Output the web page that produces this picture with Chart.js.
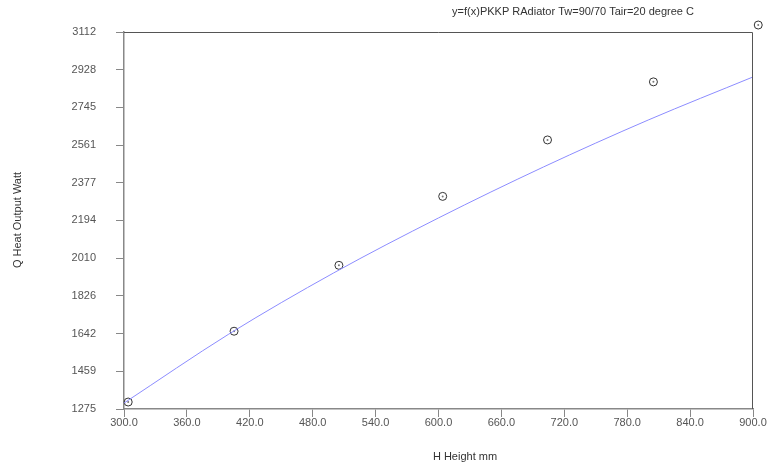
<!DOCTYPE html>
<html>
<head>
<meta charset="utf-8">
<script src="https://cdn.jsdelivr.net/npm/chart.js@4"></script>
<style>
  html, body { margin: 0; padding: 0; background: #fff; }
  #wrap { width: 770px; height: 468px; }
</style>
</head>
<body>
<div id="wrap"><canvas id="heatChart" width="770" height="468"></canvas></div>
<script>
// measured radiator points (height mm -> heat output W)
var heightMm = [304, 405, 505, 604, 704, 805, 905];
var heatWatt = [1309, 1654, 1975, 2311, 2586, 2869, 3146];

// fitted curve
var curveX = [300, 400, 500, 600, 700, 800, 900];
var curveY = [1304, 1640, 1938, 2206, 2454, 2683, 2893];

// tick labels
var xTicks = [300, 360, 420, 480, 540, 600, 660, 720, 780, 840, 900];
var yTicks = [1275, 1459, 1642, 1826, 2010, 2194, 2377, 2561, 2745, 2928, 3112];

var chartTitle = "y=f(x)PKKP RAdiator Tw=90/70 Tair=20 degree C";
var xTitle = "H Height mm";
var yTitle = "Q Heat Output Watt";

var pts = heightMm.map(function (x, i) { return { x: x, y: heatWatt[i] }; });
var curvePts = curveX.map(function (x, i) { return { x: x, y: curveY[i] }; });

// chart.js skips points outside the chart area, so draw those ourselves
// at the position the library worked out for them
var outsidePoints = {
  id: "outsidePoints",
  afterDatasetsDraw: function (chart) {
    var ctx = chart.ctx;
    var a = chart.chartArea;
    ctx.save();
    [1, 2].forEach(function (di) {
      var meta = chart.getDatasetMeta(di);
      meta.data.forEach(function (el) {
        if (el.x >= a.left && el.x <= a.right && el.y >= a.top && el.y <= a.bottom) return;
        var o = el.options;
        ctx.beginPath();
        ctx.arc(el.x, el.y, o.radius, 0, Math.PI * 2);
        ctx.fillStyle = o.backgroundColor;
        ctx.fill();
        if (o.borderWidth > 0) {
          ctx.lineWidth = o.borderWidth;
          ctx.strokeStyle = o.borderColor;
          ctx.stroke();
        }
      });
    });
    ctx.restore();
  }
};

// frame + text that sits outside the normal chart.js spots
var framePlugin = {
  id: "frame",
  afterDraw: function (chart) {
    var ctx = chart.ctx;
    var a = chart.chartArea;
    ctx.save();
    ctx.strokeStyle = "#555";
    ctx.lineWidth = 1;
    ctx.beginPath();
    ctx.moveTo(a.left, a.top + 0.5);
    ctx.lineTo(a.right - 0.5, a.top + 0.5);
    ctx.lineTo(a.right - 0.5, a.bottom);
    ctx.stroke();

    ctx.fillStyle = "#333";
    ctx.font = "11px 'Liberation Sans', Arial, sans-serif";
    ctx.textAlign = "center";
    ctx.textBaseline = "middle";
    ctx.fillText(chartTitle, 573, 12);
    ctx.fillText(xTitle, 465, 457);

    ctx.translate(18, 220);
    ctx.rotate(-Math.PI / 2);
    ctx.fillText(yTitle, 0, 0);
    ctx.restore();
  }
};

new Chart(document.getElementById("heatChart"), {
  type: "scatter",
  data: {
    datasets: [
      {
        type: "line",
        data: curvePts,
        borderColor: "#8c8cff",
        borderWidth: 1,
        pointRadius: 0,
        cubicInterpolationMode: "monotone",
        fill: false
      },
      {
        type: "bubble",
        data: pts,
        radius: 4,
        borderWidth: 1,
        borderColor: "#333",
        backgroundColor: "rgba(255,255,255,0)",
        clip: false
      },
      {
        type: "bubble",
        data: pts,
        radius: 1,
        borderWidth: 0,
        backgroundColor: "#777",
        clip: false
      }
    ]
  },
  options: {
    responsive: false,
    animation: false,
    devicePixelRatio: 1,
    layout: { padding: { left: 0, right: 17, top: 32, bottom: 0 } },
    plugins: {
      legend: { display: false },
      tooltip: { enabled: false }
    },
    scales: {
      x: {
        type: "linear",
        min: 300,
        max: 900,
        afterBuildTicks: function (scale) {
          scale.ticks = xTicks.map(function (v) { return { value: v }; });
        },
        afterFit: function (scale) { scale.height = 59; },
        ticks: {
          color: "#555",
          font: { family: "'Liberation Sans', Arial, sans-serif", size: 11 },
          padding: -1,
          maxRotation: 0,
          autoSkip: false,
          callback: function (v) { return Number(v).toFixed(1); }
        },
        grid: { drawOnChartArea: false, tickLength: 8, color: "#888" },
        border: { color: "#888", width: 1.5 }
      },
      y: {
        type: "linear",
        min: 1275,
        max: 3112,
        afterBuildTicks: function (scale) {
          scale.ticks = yTicks.map(function (v) { return { value: v }; });
        },
        afterFit: function (scale) { scale.width = 124; },
        ticks: {
          color: "#555",
          font: { family: "'Liberation Sans', Arial, sans-serif", size: 11 },
          padding: 20,
          autoSkip: false,
          callback: function (v) { return String(v); }
        },
        grid: { drawOnChartArea: false, tickLength: 8, color: "#888" },
        border: { color: "#888", width: 1.5 }
      }
    }
  },
  plugins: [outsidePoints, framePlugin]
});
</script>
</body>
</html>
